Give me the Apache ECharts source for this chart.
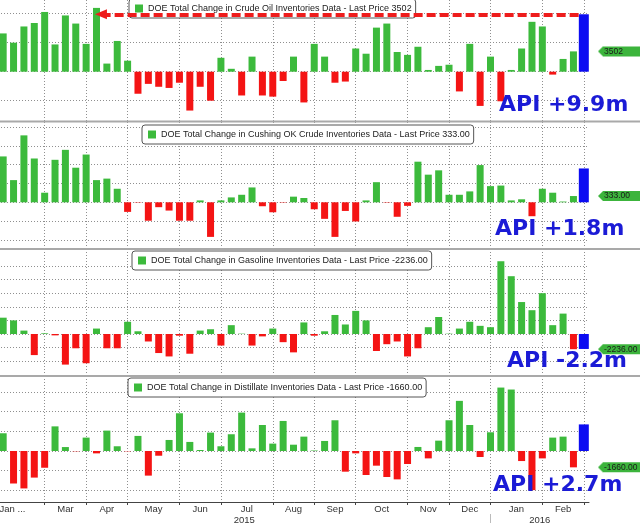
<!DOCTYPE html>
<html><head><meta charset="utf-8">
<script src="https://cdn.jsdelivr.net/npm/echarts@6/dist/echarts.min.js"></script>
<style>html,body{margin:0;padding:0;background:#fff}#c{width:640px;height:526px}</style>
</head><body><div id="c"></div>
<script>
// ---- data ----
const weeks = ['2015-01-30','2015-02-06','2015-02-13','2015-02-20','2015-02-27','2015-03-06','2015-03-13','2015-03-20','2015-03-27',
'2015-04-03','2015-04-10','2015-04-17','2015-04-24','2015-05-01','2015-05-08','2015-05-15','2015-05-22','2015-05-29',
'2015-06-05','2015-06-12','2015-06-19','2015-06-26','2015-07-03','2015-07-10','2015-07-17','2015-07-24','2015-07-31',
'2015-08-07','2015-08-14','2015-08-21','2015-08-28','2015-09-04','2015-09-11','2015-09-18','2015-09-25',
'2015-10-02','2015-10-09','2015-10-16','2015-10-23','2015-10-30','2015-11-06','2015-11-13','2015-11-20','2015-11-27',
'2015-12-04','2015-12-11','2015-12-18','2015-12-25','2016-01-01','2016-01-08','2016-01-15','2016-01-22','2016-01-29',
'2016-02-05','2016-02-12','2016-02-19','2016-02-26'];

const crude = [6600,5000,7800,8400,10300,4700,9700,8300,4800,11000,1400,5300,1900,-3800,-2100,-2600,-2800,-1900,-6700,-2600,
-5000,2400,500,-4100,2600,-4100,-4300,-1600,2600,-5300,4800,2600,-1900,-1700,4000,3100,7600,8300,3400,2900,
4300,300,1000,1200,-3400,4800,-5900,2600,-5100,300,4000,8600,7800,-500,2200,3502];

const cushing = [2440,1180,3560,2330,510,2260,2790,1840,2540,1180,1260,720,-510,-20,-980,-260,-440,-980,-980,100,
-1840,100,260,400,790,-210,-530,-20,300,230,-370,-880,-1840,-460,-1020,100,1070,-20,-770,-190,
2160,1470,1700,400,400,580,1980,860,890,100,160,-740,720,510,40,333];

const gasoline = [2400,2000,500,-3100,100,-200,-4500,-2100,-4300,800,-2100,-2100,1800,400,-1100,-2800,-3300,-250,-2900,500,
700,-1700,1300,50,-1700,-350,800,-1200,-2700,1700,-250,400,2800,1400,3400,2000,-2500,-1500,-1100,-3300,
-2100,1000,2500,50,800,1800,1200,1000,10700,8500,4700,3500,6000,1300,3000,-2236];

const distillate = [1800,-3300,-3800,-2700,-1700,2500,400,-30,1360,-240,2070,480,-30,1530,-2500,-480,1120,3830,920,100,
1870,480,1700,3900,270,2640,750,3050,640,1460,50,1020,3120,-2100,-240,-2440,-1490,-2640,-2880,-1320,
410,-750,1050,3120,5090,2640,-610,1900,6440,6240,-1020,-3970,-750,1360,1460,-1660];

const apiValues = [9900, 1800, -2200, 2700];
const lastPrices = ['3502', '333.00', '-2236.00', '-1660.00'];
const legendNames = [
  'DOE Total Change in Crude Oil Inventories Data - Last Price 3502',
  'DOE Total Change in Cushing OK Crude Inventories Data - Last Price 333.00',
  'DOE Total Change in Gasoline Inventories Data - Last Price -2236.00',
  'DOE Total Change in Distillate Inventories Data - Last Price -1660.00'
];

// axis ticks / labels (week index positions)
const monthTicks = [4, 8, 12, 17, 21, 26, 30, 34, 39, 43, 47, 52, 56];
const monthLabelPos = [0.9, 6, 10, 14.5, 19, 23.5, 28, 32, 36.5, 41, 45, 49.5, 54];
const monthLabels = ['Jan ...', 'Mar', 'Apr', 'May', 'Jun', 'Jul', 'Aug', 'Sep', 'Oct', 'Nov', 'Dec', 'Jan', 'Feb'];
const yearBreak = [47];
const yearLabelPos = [23.25, 51.75];
const yearLabels = ['2015', '2016'];

const yMin = [-8500, -2431, -6029, -5178];
const yMax = [12362, 4271, 12500, 7614];
const ySplits = [
  [-5000, 0, 5000, 10000],
  [-2000, -1000, 0, 1000, 2000, 3000, 4000],
  [-4000, -2000, 0, 2000, 4000, 6000, 8000, 10000],
  [-4000, -2000, 0, 2000, 4000, 6000]
];

// ---- layout / style ----
const series4 = [crude, cushing, gasoline, distillate];
const gridTop = [0, 122, 249, 376];
const gridHeight = [121, 126, 126, 126];
const legendPos = [[129, -1], [142, 125], [132, 251], [128, 378]];
const apiTextPos = [[499, 105.5], [495, 229.5], [507, 361.5], [493, 485.5]];
const sepY = [120.5, 248, 375];

const GREEN = '#3cba3c', RED = '#f41414', BLUE = '#0c0cf2', TAG = '#3cb43c', ARROW = '#ee1c1c';
const GRIDC = '#8f8f8f', APIC = '#1b1bd6';

const tri = document.createElement('canvas');
tri.width = 5; tri.height = 10;
const tctx = tri.getContext('2d');
tctx.fillStyle = TAG; tctx.beginPath(); tctx.moveTo(0, 5); tctx.lineTo(5, 0); tctx.lineTo(5, 10); tctx.closePath(); tctx.fill();

const chart = echarts.init(document.getElementById('c'), null, {renderer: 'canvas'});

const grids = gridTop.map((t, i) => ({left: -2, right: 51, top: t, height: gridHeight[i], outerBoundsMode: 'none'}));

const xAxes = [];
gridTop.forEach((t, i) => {
  const bottom = i === 3;
  xAxes.push({type: 'category', gridIndex: i, data: weeks, show: false, boundaryGap: true});
  xAxes.push({
    type: 'value', gridIndex: i, min: -0.5, max: 56.5, position: 'bottom',
    axisLine: {show: bottom, lineStyle: {color: '#444', width: 1}},
    axisTick: {show: bottom, customValues: monthTicks, length: 3, lineStyle: {color: '#444'}},
    axisLabel: {show: bottom, customValues: monthLabelPos, margin: 2, fontSize: 9.5,
      fontFamily: 'Liberation Sans', color: '#333',
      formatter: v => monthLabels[monthLabelPos.indexOf(v)]},
    splitLine: {show: true, lineStyle: {color: GRIDC, type: [1, 2], width: 1}}
  });
});
xAxes.push({
  type: 'value', gridIndex: 3, min: -0.5, max: 56.5, position: 'bottom', offset: 12,
  axisLine: {show: false},
  axisTick: {show: true, customValues: yearBreak, length: 9, lineStyle: {color: '#bbb'}},
  axisLabel: {show: true, customValues: yearLabelPos, margin: 1, fontSize: 9.5,
    fontFamily: 'Liberation Sans', color: '#333',
    formatter: v => yearLabels[yearLabelPos.indexOf(v)]},
  splitLine: {show: false}
});

const yAxes = gridTop.map((t, i) => ({
  type: 'value', gridIndex: i, min: yMin[i], max: yMax[i], position: 'right',
  axisLine: {show: false},
  axisTick: {show: false, customValues: ySplits[i]},
  splitLine: {show: true, lineStyle: {color: GRIDC, type: [1, 2], width: 1}},
  axisLabel: {
    show: true, customValues: [series4[i][series4[i].length - 1]], margin: 9,
    formatter: () => '{a|}{b|' + lastPrices[i] + '}',
    rich: {
      a: {width: 5, height: 10, backgroundColor: {image: tri}},
      b: {backgroundColor: TAG, color: '#1a1a1a', fontSize: 8.5, fontFamily: 'Liberation Sans',
          height: 10, lineHeight: 10, width: 37, padding: [0, 0, 0, 1], align: 'left'}
    }
  }
}));

const series = [];
series4.forEach((vals, i) => {
  series.push({
    type: 'bar', name: legendNames[i], xAxisIndex: 2 * i, yAxisIndex: i, barWidth: 7,
    itemStyle: {color: GREEN}, animation: false,
    data: vals.map(v => ({value: v, itemStyle: {color: v < 0 ? RED : GREEN}}))
  });
  const api = {
    type: 'bar', name: 'API ' + i, xAxisIndex: 2 * i + 1, yAxisIndex: i, barWidth: 10,
    itemStyle: {color: BLUE}, animation: false,
    data: [[weeks.length - 1, apiValues[i]]]
  };
  if (i === 0) {
    api.markLine = {
      silent: true, animation: false, symbol: ['none', 'triangle'], symbolSize: [10, 12],
      label: {show: false},
      lineStyle: {color: ARROW, width: 4, type: [9, 4], opacity: 1},
      data: [[{coord: [weeks.length - 1.5, apiValues[0]]}, {coord: [9.43, apiValues[0]]}]]
    };
  }
  series.push(api);
});

const apiLabel = v => 'API ' + (v > 0 ? '+' : '-') + (Math.abs(v) / 1000).toFixed(1) + 'm';

const graphic = [];
sepY.forEach(y => graphic.push({type: 'rect', shape: {x: 0, y: y, width: 640, height: 2}, style: {fill: '#a9a9a9'}, z: 100}));
apiValues.forEach((v, i) => graphic.push({
  type: 'text', x: apiTextPos[i][0], y: apiTextPos[i][1], z: 100,
  style: {text: apiLabel(v), font: 'bold 22px "DejaVu Sans"', fill: APIC, verticalAlign: 'middle'}
}));

chart.setOption({
  animation: false,
  backgroundColor: '#fff',
  grid: grids,
  xAxis: xAxes,
  yAxis: yAxes,
  legend: legendNames.map((n, i) => ({
    data: [{name: n, itemStyle: {color: GREEN}}],
    left: legendPos[i][0], top: legendPos[i][1],
    icon: 'rect', itemWidth: 8, itemHeight: 8, selectedMode: false,
    padding: [5, 4, 5, 6], backgroundColor: '#fff', borderColor: '#555', borderWidth: 1, borderRadius: 3,
    textStyle: {fontSize: 9, fontFamily: 'Liberation Sans', color: '#222'}
  })),
  series: series,
  graphic: graphic
});
</script>
</body></html>
